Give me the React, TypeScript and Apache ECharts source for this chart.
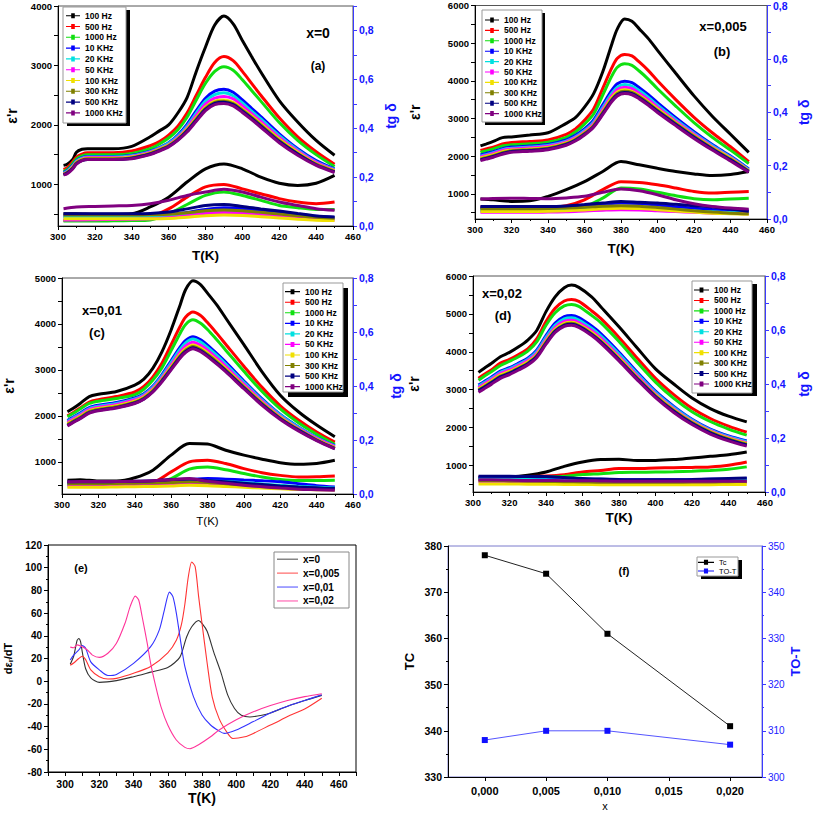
import React, { useEffect, useRef } from "react";
import * as echarts from "echarts";

const FONT = "'Liberation Sans', Arial, Helvetica, sans-serif";

const FREQS = ["100 Hz", "500 Hz", "1000 Hz", "10 KHz", "20 KHz", "50 KHz", "100 KHz", "300 KHz", "500 KHz", "1000 KHz"];
const FREQ_COLORS = ["#000000", "#ff0000", "#10e010", "#0000ff", "#00e0e0", "#ff00ff", "#f0e000", "#808000", "#000080", "#800080"];

// ---------- (a) x = 0 ----------
const T_EPS_A = [303, 305, 308, 310, 313, 316, 320, 330, 340, 350, 355, 360, 365, 370, 375, 380, 385, 390, 395, 400, 405, 410, 420, 430, 440, 450];
const EPS_A = [
  [1320, 1340, 1420, 1540, 1590, 1600, 1600, 1600, 1640, 1800, 1900, 2000, 2200, 2460, 2900, 3310, 3680, 3830, 3700, 3420, 3150, 2890, 2410, 2050, 1740, 1490],
  [1250, 1280, 1380, 1460, 1510, 1530, 1530, 1530, 1560, 1650, 1720, 1830, 1980, 2200, 2500, 2800, 3050, 3150, 3080, 2900, 2700, 2500, 2120, 1800, 1550, 1340],
  [1220, 1250, 1350, 1430, 1480, 1500, 1500, 1500, 1520, 1600, 1680, 1780, 1920, 2130, 2420, 2700, 2900, 2980, 2920, 2760, 2580, 2400, 2040, 1740, 1500, 1300],
  [1200, 1230, 1320, 1400, 1450, 1470, 1470, 1470, 1490, 1560, 1620, 1700, 1830, 2010, 2240, 2450, 2570, 2600, 2550, 2420, 2280, 2140, 1850, 1600, 1400, 1260],
  [1190, 1220, 1310, 1390, 1440, 1460, 1460, 1460, 1480, 1550, 1610, 1690, 1810, 1980, 2200, 2400, 2510, 2540, 2490, 2370, 2230, 2100, 1820, 1580, 1380, 1250],
  [1180, 1210, 1300, 1380, 1430, 1450, 1450, 1450, 1470, 1540, 1600, 1670, 1790, 1950, 2160, 2350, 2450, 2480, 2440, 2320, 2190, 2060, 1790, 1560, 1370, 1240],
  [1170, 1200, 1290, 1370, 1420, 1440, 1440, 1440, 1460, 1530, 1590, 1660, 1770, 1930, 2120, 2300, 2400, 2420, 2380, 2270, 2150, 2020, 1760, 1540, 1350, 1230],
  [1170, 1200, 1280, 1360, 1410, 1430, 1430, 1430, 1450, 1520, 1580, 1650, 1760, 1910, 2100, 2280, 2380, 2400, 2360, 2250, 2130, 2000, 1740, 1520, 1340, 1220],
  [1160, 1190, 1270, 1350, 1400, 1420, 1420, 1420, 1440, 1510, 1570, 1640, 1750, 1900, 2080, 2260, 2360, 2380, 2340, 2230, 2110, 1980, 1720, 1510, 1330, 1210],
  [1160, 1180, 1260, 1340, 1400, 1420, 1420, 1420, 1430, 1500, 1560, 1630, 1740, 1880, 2060, 2240, 2340, 2360, 2320, 2210, 2090, 1960, 1700, 1490, 1320, 1200],
];

// tg delta temperature grid (all panels)
const T_TG = [303, 310, 320, 330, 340, 350, 360, 370, 380, 390, 400, 410, 420, 430, 440, 450];
const TG_A = [
  [0.050, 0.050, 0.048, 0.048, 0.050, 0.078, 0.118, 0.180, 0.234, 0.254, 0.234, 0.200, 0.175, 0.166, 0.175, 0.207],
  [0.023, 0.023, 0.023, 0.024, 0.025, 0.037, 0.070, 0.118, 0.160, 0.170, 0.152, 0.132, 0.112, 0.098, 0.091, 0.098],
  [0.020, 0.020, 0.020, 0.021, 0.022, 0.025, 0.050, 0.088, 0.125, 0.139, 0.125, 0.105, 0.084, 0.075, 0.068, 0.067],
  [0.040, 0.040, 0.040, 0.040, 0.041, 0.043, 0.046, 0.055, 0.068, 0.075, 0.072, 0.064, 0.055, 0.047, 0.040, 0.035],
  [0.035, 0.035, 0.035, 0.035, 0.036, 0.038, 0.041, 0.048, 0.056, 0.060, 0.058, 0.052, 0.045, 0.038, 0.033, 0.030],
  [0.025, 0.025, 0.026, 0.027, 0.028, 0.030, 0.034, 0.042, 0.051, 0.055, 0.052, 0.046, 0.040, 0.033, 0.028, 0.025],
  [0.030, 0.030, 0.030, 0.030, 0.030, 0.030, 0.031, 0.036, 0.042, 0.045, 0.043, 0.038, 0.033, 0.028, 0.024, 0.022],
  [0.045, 0.045, 0.045, 0.045, 0.045, 0.046, 0.048, 0.054, 0.062, 0.065, 0.062, 0.056, 0.049, 0.042, 0.036, 0.032],
  [0.050, 0.050, 0.050, 0.050, 0.050, 0.051, 0.057, 0.070, 0.084, 0.088, 0.080, 0.070, 0.061, 0.051, 0.041, 0.037],
  [0.071, 0.078, 0.080, 0.082, 0.084, 0.091, 0.105, 0.125, 0.139, 0.150, 0.139, 0.118, 0.098, 0.084, 0.071, 0.064],
];

// ---------- (b) x = 0,005 ----------
const T_EPS_B = [303, 306, 310, 315, 320, 330, 340, 350, 355, 360, 365, 370, 375, 378, 382, 386, 390, 395, 400, 410, 420, 430, 440, 450];
const EPS_B = [
  [2270, 2320, 2390, 2490, 2510, 2560, 2620, 2870, 3020, 3300, 3660, 4240, 4980, 5380, 5640, 5580, 5380, 5120, 4810, 4200, 3600, 3060, 2580, 2100],
  [2150, 2190, 2240, 2320, 2360, 2390, 2430, 2580, 2720, 2950, 3250, 3800, 4350, 4600, 4700, 4660, 4500, 4270, 4000, 3500, 3030, 2620, 2250, 1850],
  [2100, 2140, 2190, 2270, 2300, 2330, 2370, 2500, 2640, 2850, 3120, 3620, 4130, 4360, 4450, 4410, 4260, 4040, 3790, 3330, 2890, 2500, 2160, 1800],
  [2030, 2070, 2120, 2200, 2240, 2270, 2310, 2430, 2550, 2720, 2960, 3360, 3750, 3920, 3990, 3950, 3820, 3630, 3420, 3020, 2650, 2310, 2000, 1660],
  [2000, 2040, 2090, 2170, 2210, 2240, 2280, 2400, 2510, 2680, 2910, 3290, 3670, 3830, 3900, 3860, 3740, 3560, 3350, 2970, 2610, 2280, 1980, 1640],
  [1980, 2020, 2070, 2150, 2190, 2220, 2260, 2380, 2490, 2650, 2870, 3240, 3610, 3770, 3830, 3790, 3670, 3500, 3300, 2930, 2580, 2250, 1960, 1620],
  [1950, 1990, 2040, 2120, 2160, 2190, 2230, 2350, 2460, 2620, 2830, 3190, 3550, 3700, 3760, 3720, 3610, 3440, 3250, 2890, 2550, 2230, 1940, 1610],
  [1920, 1960, 2010, 2090, 2140, 2170, 2210, 2330, 2440, 2600, 2810, 3160, 3510, 3660, 3720, 3690, 3580, 3410, 3220, 2870, 2530, 2210, 1920, 1600],
  [1900, 1940, 1990, 2070, 2120, 2150, 2190, 2310, 2420, 2580, 2790, 3130, 3480, 3630, 3690, 3660, 3550, 3380, 3190, 2840, 2500, 2190, 1900, 1590],
  [1880, 1920, 1970, 2050, 2100, 2130, 2170, 2290, 2400, 2560, 2770, 3100, 3450, 3600, 3660, 3630, 3520, 3350, 3160, 2810, 2470, 2160, 1870, 1570],
];
const TG_B = [
  [0.075, 0.072, 0.066, 0.068, 0.085, 0.110, 0.140, 0.178, 0.215, 0.203, 0.190, 0.178, 0.169, 0.163, 0.167, 0.178],
  [0.045, 0.043, 0.041, 0.042, 0.043, 0.050, 0.072, 0.110, 0.140, 0.137, 0.128, 0.116, 0.103, 0.097, 0.100, 0.103],
  [0.035, 0.035, 0.035, 0.035, 0.035, 0.038, 0.047, 0.078, 0.116, 0.112, 0.100, 0.087, 0.076, 0.072, 0.075, 0.078],
  [0.042, 0.042, 0.042, 0.042, 0.043, 0.045, 0.048, 0.055, 0.060, 0.058, 0.052, 0.046, 0.040, 0.036, 0.033, 0.030],
  [0.030, 0.030, 0.030, 0.030, 0.031, 0.033, 0.036, 0.041, 0.045, 0.044, 0.040, 0.035, 0.030, 0.027, 0.024, 0.022],
  [0.025, 0.025, 0.025, 0.025, 0.026, 0.027, 0.030, 0.033, 0.035, 0.034, 0.031, 0.028, 0.025, 0.022, 0.021, 0.020],
  [0.028, 0.028, 0.028, 0.028, 0.029, 0.031, 0.034, 0.038, 0.040, 0.039, 0.035, 0.030, 0.026, 0.022, 0.020, 0.018],
  [0.038, 0.038, 0.038, 0.038, 0.039, 0.041, 0.044, 0.048, 0.050, 0.048, 0.043, 0.037, 0.031, 0.026, 0.022, 0.020],
  [0.047, 0.047, 0.047, 0.047, 0.047, 0.049, 0.054, 0.060, 0.066, 0.063, 0.060, 0.055, 0.050, 0.045, 0.037, 0.029],
  [0.075, 0.077, 0.078, 0.077, 0.076, 0.079, 0.085, 0.100, 0.112, 0.106, 0.091, 0.072, 0.057, 0.047, 0.041, 0.037],
];

// ---------- (c) x = 0,01 ----------
const T_EPS_C = [303, 306, 310, 315, 320, 330, 340, 345, 350, 355, 360, 365, 368, 372, 376, 380, 385, 390, 400, 410, 420, 430, 440, 450];
const EPS_C = [
  [2090, 2160, 2270, 2420, 2470, 2530, 2670, 2800, 3040, 3400, 3870, 4420, 4750, 4940, 4860, 4670, 4420, 4130, 3550, 2960, 2450, 2090, 1800, 1545],
  [2000, 2070, 2170, 2300, 2350, 2420, 2520, 2640, 2850, 3150, 3550, 3950, 4150, 4260, 4190, 4030, 3800, 3560, 3080, 2620, 2220, 1910, 1650, 1430],
  [1980, 2050, 2150, 2270, 2320, 2380, 2460, 2580, 2780, 3050, 3420, 3800, 3990, 4090, 4020, 3880, 3660, 3430, 2970, 2530, 2150, 1850, 1600, 1380],
  [1900, 1970, 2060, 2180, 2230, 2290, 2390, 2480, 2650, 2900, 3200, 3500, 3640, 3720, 3660, 3540, 3360, 3170, 2760, 2370, 2030, 1760, 1530, 1350],
  [1880, 1950, 2040, 2160, 2210, 2270, 2370, 2460, 2630, 2870, 3160, 3450, 3590, 3670, 3610, 3490, 3320, 3130, 2730, 2350, 2020, 1750, 1520, 1340],
  [1860, 1930, 2020, 2140, 2190, 2250, 2350, 2440, 2600, 2830, 3110, 3390, 3520, 3600, 3540, 3430, 3260, 3080, 2690, 2320, 1990, 1730, 1510, 1330],
  [1830, 1900, 1990, 2110, 2160, 2220, 2320, 2410, 2570, 2800, 3070, 3340, 3460, 3540, 3480, 3370, 3210, 3030, 2650, 2290, 1970, 1710, 1490, 1310],
  [1810, 1880, 1970, 2090, 2140, 2200, 2300, 2390, 2550, 2780, 3040, 3310, 3430, 3510, 3450, 3340, 3180, 3000, 2630, 2270, 1950, 1700, 1480, 1300],
  [1790, 1860, 1950, 2070, 2120, 2180, 2280, 2370, 2530, 2760, 3020, 3280, 3400, 3480, 3420, 3310, 3150, 2980, 2610, 2250, 1940, 1690, 1470, 1290],
  [1780, 1850, 1940, 2060, 2110, 2170, 2270, 2360, 2520, 2740, 3000, 3260, 3380, 3460, 3400, 3290, 3130, 2960, 2590, 2230, 1920, 1670, 1460, 1280],
];
const TG_C = [
  [0.051, 0.053, 0.048, 0.048, 0.060, 0.088, 0.144, 0.187, 0.185, 0.162, 0.144, 0.129, 0.116, 0.110, 0.113, 0.125],
  [0.040, 0.040, 0.040, 0.041, 0.043, 0.045, 0.082, 0.119, 0.125, 0.113, 0.094, 0.079, 0.069, 0.063, 0.064, 0.067],
  [0.035, 0.035, 0.035, 0.036, 0.038, 0.040, 0.057, 0.092, 0.100, 0.090, 0.076, 0.063, 0.054, 0.050, 0.050, 0.051],
  [0.040, 0.040, 0.040, 0.041, 0.042, 0.043, 0.045, 0.052, 0.057, 0.055, 0.052, 0.049, 0.045, 0.038, 0.031, 0.026],
  [0.033, 0.033, 0.033, 0.034, 0.035, 0.037, 0.040, 0.045, 0.048, 0.046, 0.042, 0.037, 0.032, 0.028, 0.025, 0.022],
  [0.030, 0.030, 0.030, 0.031, 0.032, 0.034, 0.036, 0.039, 0.040, 0.038, 0.034, 0.030, 0.026, 0.023, 0.021, 0.020],
  [0.025, 0.025, 0.025, 0.026, 0.027, 0.028, 0.030, 0.032, 0.031, 0.028, 0.025, 0.022, 0.019, 0.017, 0.016, 0.015],
  [0.038, 0.038, 0.038, 0.039, 0.040, 0.041, 0.043, 0.045, 0.043, 0.038, 0.033, 0.028, 0.024, 0.021, 0.019, 0.018],
  [0.045, 0.045, 0.045, 0.046, 0.047, 0.049, 0.054, 0.056, 0.050, 0.045, 0.040, 0.035, 0.030, 0.026, 0.023, 0.020],
  [0.045, 0.046, 0.046, 0.046, 0.047, 0.049, 0.053, 0.057, 0.047, 0.040, 0.032, 0.027, 0.022, 0.018, 0.016, 0.014],
];

// ---------- (d) x = 0,02 ----------
const T_EPS_D = [303, 306, 310, 315, 320, 325, 330, 335, 340, 345, 350, 354, 358, 365, 370, 380, 390, 400, 410, 420, 430, 440, 450];
const EPS_D = [
  [3456, 3560, 3690, 3870, 3984, 4130, 4310, 4570, 5060, 5450, 5690, 5760, 5700, 5450, 5190, 4660, 4100, 3550, 3150, 2780, 2500, 2300, 2150],
  [3300, 3400, 3520, 3700, 3800, 3930, 4080, 4350, 4800, 5150, 5340, 5380, 5330, 5080, 4880, 4380, 3830, 3300, 2870, 2510, 2240, 2040, 1880],
  [3250, 3350, 3470, 3640, 3750, 3870, 4020, 4270, 4700, 5030, 5210, 5250, 5200, 4960, 4770, 4270, 3720, 3200, 2770, 2420, 2160, 1960, 1800],
  [3120, 3210, 3330, 3490, 3580, 3700, 3830, 4050, 4430, 4760, 4930, 4960, 4900, 4680, 4480, 3990, 3460, 2960, 2560, 2220, 1960, 1780, 1650],
  [3090, 3180, 3300, 3460, 3550, 3670, 3800, 4010, 4380, 4700, 4870, 4900, 4840, 4620, 4420, 3940, 3420, 2930, 2530, 2200, 1940, 1760, 1630],
  [3060, 3150, 3270, 3430, 3520, 3640, 3770, 3970, 4320, 4640, 4800, 4830, 4770, 4560, 4360, 3880, 3370, 2890, 2500, 2170, 1920, 1740, 1600],
  [3020, 3110, 3230, 3390, 3480, 3600, 3730, 3930, 4280, 4590, 4750, 4780, 4720, 4510, 4310, 3840, 3330, 2860, 2470, 2150, 1900, 1720, 1580],
  [2990, 3080, 3200, 3360, 3450, 3570, 3700, 3900, 4250, 4560, 4720, 4750, 4690, 4480, 4280, 3810, 3310, 2840, 2450, 2130, 1880, 1700, 1560],
  [2970, 3060, 3180, 3340, 3430, 3550, 3680, 3880, 4230, 4540, 4700, 4730, 4670, 4460, 4260, 3790, 3290, 2820, 2430, 2110, 1860, 1680, 1540],
  [2930, 3020, 3140, 3300, 3400, 3520, 3650, 3850, 4200, 4510, 4670, 4700, 4640, 4430, 4230, 3760, 3260, 2790, 2400, 2080, 1830, 1650, 1510],
];
const TG_D = [
  [0.053, 0.055, 0.056, 0.062, 0.074, 0.095, 0.111, 0.120, 0.121, 0.117, 0.117, 0.120, 0.126, 0.132, 0.138, 0.148],
  [0.055, 0.055, 0.056, 0.057, 0.059, 0.064, 0.074, 0.080, 0.087, 0.087, 0.089, 0.090, 0.091, 0.093, 0.099, 0.111],
  [0.050, 0.050, 0.051, 0.053, 0.055, 0.058, 0.065, 0.068, 0.072, 0.073, 0.074, 0.075, 0.077, 0.080, 0.084, 0.093],
  [0.052, 0.052, 0.051, 0.050, 0.050, 0.049, 0.048, 0.047, 0.046, 0.045, 0.045, 0.045, 0.046, 0.047, 0.048, 0.050],
  [0.048, 0.048, 0.047, 0.046, 0.045, 0.044, 0.043, 0.042, 0.041, 0.040, 0.040, 0.040, 0.041, 0.042, 0.043, 0.045],
  [0.040, 0.040, 0.039, 0.038, 0.037, 0.036, 0.035, 0.034, 0.033, 0.033, 0.033, 0.033, 0.034, 0.034, 0.035, 0.036],
  [0.030, 0.030, 0.030, 0.029, 0.029, 0.028, 0.028, 0.027, 0.027, 0.027, 0.027, 0.027, 0.027, 0.027, 0.028, 0.028],
  [0.042, 0.042, 0.041, 0.040, 0.039, 0.038, 0.037, 0.036, 0.036, 0.036, 0.036, 0.036, 0.037, 0.037, 0.038, 0.039],
  [0.058, 0.058, 0.058, 0.057, 0.057, 0.054, 0.050, 0.048, 0.046, 0.045, 0.045, 0.045, 0.046, 0.048, 0.050, 0.052],
  [0.045, 0.045, 0.044, 0.043, 0.043, 0.042, 0.042, 0.041, 0.040, 0.040, 0.040, 0.040, 0.040, 0.040, 0.040, 0.040],
];

// ---------- (e) derivative d eps / dT ----------
const E_NAMES = ["x=0", "x=0,005", "x=0,01", "x=0,02"];
const E_COLORS = ["#333333", "#ff3333", "#3333ff", "#ff3399"];
const E_T0 = [303, 305, 307, 308, 309, 310, 312, 315, 320, 330, 340, 350, 360, 367, 371, 374, 378, 380, 383, 387, 391, 395, 399, 403, 408, 415, 420, 430, 440, 450];
const E_V0 = [15, 22, 36, 37.5, 35, 26, 11, 3, -1, 0.5, 4, 8, 12, 21, 39, 48, 53.5, 51, 44, 25, 8, -12, -24, -30, -31.5, -30, -28, -22, -17, -12.5];
const E_T1 = [303, 305, 308, 310, 312, 315, 320, 325, 330, 340, 350, 360, 365, 368, 370, 372, 374, 376, 378, 380, 383, 386, 390, 395, 398, 405, 410, 420, 425, 430, 440, 450];
const E_V1 = [14, 16, 20, 22, 19, 10, 4, 2, 2.5, 7, 13, 25, 36, 50, 68, 92, 105, 101, 75, 51, 16, -14, -33, -46, -50.5, -49, -46, -38.6, -35, -31, -24.5, -15];
const E_T2 = [303, 305, 308, 310, 312, 315, 320, 325, 330, 340, 350, 355, 358, 361, 363, 365, 368, 370, 375, 380, 385, 390, 393, 400, 410, 420, 430, 440, 450];
const E_V2 = [18.7, 23, 27.5, 31.5, 29, 17, 10, 5, 6, 15.7, 30.4, 45, 62.7, 78.5, 74.5, 60, 30.4, 12.8, -13.6, -29.8, -38.6, -43.9, -46, -43, -35.6, -28, -22, -17, -12];
const E_T3 = [303, 305, 307, 310, 313, 316, 320, 325, 330, 335, 338, 341, 343, 345, 348, 350, 353, 356, 360, 365, 370, 373, 378, 385, 390, 400, 410, 420, 430, 440, 450];
const E_V3 = [30, 29.5, 32, 30.4, 27.5, 23, 21, 24.6, 33.4, 51, 65.7, 75, 71.5, 57, 33.4, 15.7, -4.8, -22.4, -38.6, -51.8, -58.3, -59.5, -56, -49, -43, -34, -27, -21.5, -17, -13.6, -11];

// ---------- (f) Tc and TO-T vs x ----------
const F_X = [0, 0.005, 0.01, 0.02];
const F_TC = [378, 374, 361, 341];
const F_TOT = [308, 310, 310, 307];

const comma = (v: number, d: number) => v.toFixed(d).replace(".", ",");
// legend icon: thin line with a small square in the middle
const LINE_SQUARE_ICON = "path://M0,2H14V3H0Z M5.2,0.3H8.8V4.7H5.2Z";

function buildOption() {
  const grid: any[] = [];
  const xAxis: any[] = [];
  const yAxis: any[] = [];
  const series: any[] = [];
  const legend: any[] = [];
  const graphic: any[] = [];

  const tickLabel = { color: "#000", fontWeight: "bold", fontSize: 9.5, fontFamily: FONT };

  const panels = [
    {
      g: { left: 58, top: 6, width: 295, height: 220 }, T: T_EPS_A, eps: EPS_A, tg: TG_A,
      yMin: 300, yMax: 4000, yLabels: [1000, 2000, 3000, 4000], yTicks: [500, 1000, 1500, 2000, 2500, 3000, 3500, 4000],
      tgMax: 0.9, xGap: 22, xBold: true, xSize: 13.5, yGap: 39, tgGap: 31,
      lg: { left: 66, top: 10.3, row: 10.8, iw: 14 }, box: { x: 63, y: 7, w: 63, h: 116, sx: 4, sy: 3 },
      t1: { t: "x=0", x: 318, y: 33, s: 14 }, t2: { t: "(a)", x: 318, y: 66, s: 12 },
    },
    {
      g: { left: 475, top: 5, width: 292, height: 214 }, T: T_EPS_B, eps: EPS_B, tg: TG_B,
      yMin: 330, yMax: 6000, yLabels: [1000, 2000, 3000, 4000, 5000, 6000], yTicks: [500, 1000, 1500, 2000, 2500, 3000, 3500, 4000, 4500, 5000, 5500, 6000],
      tgMax: 0.8, xGap: 22, xBold: true, xSize: 13.5, yGap: 53, tgGap: 30,
      lg: { left: 485, top: 14.8, row: 10.4, iw: 14 }, box: { x: 482, y: 10, w: 60, h: 112, sx: 3, sy: 3 },
      t1: { t: "x=0,005", x: 723, y: 26, s: 13 }, t2: { t: "(b)", x: 722, y: 51, s: 13 },
    },
    {
      g: { left: 62, top: 278, width: 291, height: 216 }, T: T_EPS_C, eps: EPS_C, tg: TG_C,
      yMin: 300, yMax: 5000, yLabels: [1000, 2000, 3000, 4000, 5000], yTicks: [500, 1000, 1500, 2000, 2500, 3000, 3500, 4000, 4500, 5000],
      tgMax: 0.8, xGap: 21, xBold: false, xSize: 11.5, yGap: 46, tgGap: 36,
      lg: { left: 285, top: 286.4, row: 10.55, iw: 15 }, box: { x: 283, y: 283, w: 60, h: 109, sx: 5, sy: 5 },
      t1: { t: "x=0,01", x: 102, y: 310, s: 13 }, t2: { t: "(c)", x: 97, y: 332, s: 13 },
    },
    {
      g: { left: 473, top: 276, width: 292, height: 216 }, T: T_EPS_D, eps: EPS_D, tg: TG_D,
      yMin: 300, yMax: 6000, yLabels: [1000, 2000, 3000, 4000, 5000, 6000], yTicks: [500, 1000, 1500, 2000, 2500, 3000, 3500, 4000, 4500, 5000, 5500, 6000],
      tgMax: 0.8, xGap: 18, xBold: true, xSize: 13.5, yGap: 52, tgGap: 32,
      lg: { left: 694, top: 284.8, row: 10.44, iw: 15 }, box: { x: 692, y: 281, w: 60, h: 112, sx: 5, sy: 3 },
      t1: { t: "x=0,02", x: 502, y: 293, s: 13 }, t2: { t: "(d)", x: 503, y: 315, s: 13 },
    },
  ];

  panels.forEach((p, i) => {
    grid.push({ ...p.g, show: true, borderColor: "#555", borderWidth: 1, backgroundColor: "transparent" });
    xAxis.push({
      gridIndex: i, type: "value", min: 300, max: 460, interval: 20,
      axisLine: { onZero: false, lineStyle: { color: "#000", width: 1 } },
      axisTick: { length: 4, lineStyle: { color: "#000" } },
      minorTick: { show: true, splitNumber: 2, length: 2, lineStyle: { color: "#000" } },
      axisLabel: { ...tickLabel, margin: 5, formatter: (v: number) => String(v) },
      splitLine: { show: false },
      name: "T(K)", nameLocation: "middle", nameGap: p.xGap,
      nameTextStyle: { color: "#000", fontWeight: p.xBold ? "bold" : "normal", fontSize: p.xSize, fontFamily: FONT },
    });
    yAxis.push({
      gridIndex: i, type: "value", min: p.yMin, max: p.yMax,
      axisLine: { show: true, onZero: false, lineStyle: { color: "#000", width: 1 } },
      axisTick: { show: true, length: 4, customValues: p.yTicks, lineStyle: { color: "#000" } },
      axisLabel: { ...tickLabel, customValues: p.yLabels, margin: 6, formatter: (v: number) => String(Math.round(v)) },
      splitLine: { show: false },
      name: "ε'r", nameLocation: "middle", nameGap: p.yGap,
      nameTextStyle: { color: "#000", fontWeight: "bold", fontSize: 14, fontFamily: FONT },
    });
    yAxis.push({
      gridIndex: i, type: "value", position: "right", min: 0, max: p.tgMax, interval: 0.1,
      axisLine: { show: true, onZero: false, lineStyle: { color: "#3b3bff", width: 1 } },
      axisTick: { show: true, length: 4, lineStyle: { color: "#3b3bff" } },
      axisLabel: {
        color: "#1414ff", fontWeight: "bold", fontSize: 10.5, fontFamily: FONT, interval: 0, margin: 6,
        formatter: (v: number) => (Math.round(v * 10) % 2 === 0 ? comma(v, 1) : ""),
      },
      splitLine: { show: false },
      name: "tg δ", nameLocation: "middle", nameGap: p.tgGap,
      nameTextStyle: { color: "#1414ff", fontWeight: "bold", fontSize: 14, fontFamily: FONT },
    });
    FREQS.forEach((f, k) => {
      series.push({
        type: "line", name: f, xAxisIndex: i, yAxisIndex: 2 * i,
        data: p.T.map((t, j) => [t, p.eps[k][j]]),
        smooth: 0.3, symbol: "rect", symbolSize: 4, showSymbol: false, silent: true,
        lineStyle: { width: 3, color: FREQ_COLORS[k] }, itemStyle: { color: FREQ_COLORS[k] },
      });
      series.push({
        type: "line", name: "tg δ " + f, xAxisIndex: i, yAxisIndex: 2 * i + 1,
        data: T_TG.map((t, j) => [t, p.tg[k][j]]),
        smooth: 0.3, symbol: "none", silent: true,
        lineStyle: { width: 3, color: FREQ_COLORS[k] }, itemStyle: { color: FREQ_COLORS[k] },
      });
    });
    legend.push({
      data: FREQS, icon: LINE_SQUARE_ICON, orient: "vertical", left: p.lg.left, top: p.lg.top, padding: 0, itemGap: 0,
      itemWidth: p.lg.iw, itemHeight: 5, selectedMode: false, z: 6, symbolKeepAspect: false,
      textStyle: { fontSize: 8.5, fontWeight: "bold", color: "#000", fontFamily: FONT, lineHeight: p.lg.row },
    });
    const b = p.box;
    graphic.push({ type: "rect", z: 3, shape: { x: b.x + b.sx, y: b.y + b.sy, width: b.w, height: b.h }, style: { fill: "#000" } });
    graphic.push({ type: "rect", z: 3, shape: { x: b.x, y: b.y, width: b.w, height: b.h }, style: { fill: "#fff", stroke: "#999", lineWidth: 1 } });
    [p.t1, p.t2].forEach((t) => {
      graphic.push({
        type: "text", z: 10, x: t.x, y: t.y,
        style: { text: t.t, fill: "#000", fontSize: t.s, fontWeight: "bold", fontFamily: FONT, align: "center", verticalAlign: "middle" },
      });
    });
  });

  // ---------- (e) ----------
  grid.push({ left: 48, top: 545, width: 308, height: 227, show: true, borderColor: "#000", borderWidth: 1, backgroundColor: "transparent" });
  xAxis.push({
    gridIndex: 4, type: "value", min: 290, max: 470, interval: 10,
    axisLine: { onZero: false, lineStyle: { color: "#000" } },
    axisTick: { length: 4, lineStyle: { color: "#000" } },
    axisLabel: {
      ...tickLabel, fontSize: 10.5, interval: 0, margin: 6,
      formatter: (v: number) => (v % 20 === 0 ? String(v) : ""),
    },
    splitLine: { show: false },
    name: "T(K)", nameLocation: "middle", nameGap: 19,
    nameTextStyle: { color: "#000", fontWeight: "bold", fontSize: 14, fontFamily: FONT },
  });
  yAxis.push({
    gridIndex: 4, type: "value", min: -80, max: 120, interval: 20,
    axisLine: { show: true, onZero: false, lineStyle: { color: "#000" } },
    axisTick: { show: true, length: 4, lineStyle: { color: "#000" } },
    minorTick: { show: true, splitNumber: 2, length: 2, lineStyle: { color: "#000" } },
    axisLabel: { ...tickLabel, fontSize: 10, margin: 6 },
    splitLine: { show: false },
    name: "{a|dε}{b|r}{a|/dT}", nameLocation: "middle", nameGap: 34,
    nameTextStyle: {
      color: "#000", fontFamily: FONT,
      rich: { a: { fontSize: 11, fontWeight: "bold", fontFamily: FONT }, b: { fontSize: 8, fontWeight: "bold", fontFamily: FONT, padding: [5, 0, 0, 0] } },
    },
  });
  const eT = [E_T0, E_T1, E_T2, E_T3];
  const eV = [E_V0, E_V1, E_V2, E_V3];
  E_NAMES.forEach((n, k) => {
    series.push({
      type: "line", name: n, xAxisIndex: 4, yAxisIndex: 8,
      data: eT[k].map((t, j) => [t, eV[k][j]]),
      smooth: 0.25, symbol: "none", silent: true,
      lineStyle: { width: 1.1, color: E_COLORS[k] }, itemStyle: { color: E_COLORS[k] },
    });
  });
  legend.push({
    data: E_NAMES, orient: "vertical", left: 277, top: 552.3, padding: 0, itemGap: 0,
    itemWidth: 21, itemHeight: 1.5, icon: "rect", selectedMode: false, z: 6,
    itemStyle: { opacity: 0.6 },
    textStyle: { fontSize: 10, fontWeight: "bold", color: "#000", fontFamily: FONT, lineHeight: 13.9 },
  });
  graphic.push({ type: "rect", z: 3, shape: { x: 274, y: 552, width: 75, height: 56 }, style: { fill: "#fff", stroke: "#888", lineWidth: 1 } });
  graphic.push({
    type: "text", z: 10, x: 81, y: 568,
    style: { text: "(e)", fill: "#000", fontSize: 11, fontWeight: "bold", fontFamily: FONT, align: "center", verticalAlign: "middle" },
  });

  // ---------- (f) ----------
  grid.push({ left: 448, top: 546, width: 314, height: 231, show: true, borderColor: "#7a7acc", borderWidth: 1, backgroundColor: "transparent" });
  xAxis.push({
    gridIndex: 5, type: "value", min: -0.003, max: 0.0226,
    axisLine: { onZero: false, lineStyle: { color: "#000" } },
    axisTick: { length: 4, customValues: [0, 0.005, 0.01, 0.015, 0.02], lineStyle: { color: "#000" } },
    axisLabel: { ...tickLabel, fontSize: 11, margin: 8, customValues: [0, 0.005, 0.01, 0.015, 0.02], formatter: (v: number) => comma(v, 3) },
    splitLine: { show: false },
    name: "x", nameLocation: "middle", nameGap: 23,
    nameTextStyle: { color: "#000", fontSize: 11, fontFamily: FONT },
  });
  yAxis.push({
    gridIndex: 5, type: "value", min: 330, max: 380, interval: 10,
    axisLine: { show: true, onZero: false, lineStyle: { color: "#000" } },
    axisTick: { show: true, length: 4, lineStyle: { color: "#000" } },
    minorTick: { show: true, splitNumber: 2, length: 2, lineStyle: { color: "#000" } },
    axisLabel: { ...tickLabel, fontSize: 10.5, margin: 6 },
    splitLine: { show: false },
    name: "TC", nameLocation: "middle", nameGap: 32,
    nameTextStyle: { color: "#000", fontWeight: "bold", fontSize: 13, fontFamily: FONT },
  });
  yAxis.push({
    gridIndex: 5, type: "value", position: "right", min: 300, max: 350, interval: 10,
    axisLine: { show: true, onZero: false, lineStyle: { color: "#3b3bff" } },
    axisTick: { show: true, length: 4, lineStyle: { color: "#3b3bff" } },
    minorTick: { show: true, splitNumber: 2, length: 2, lineStyle: { color: "#3b3bff" } },
    axisLabel: { color: "#2020ff", fontSize: 10, fontFamily: FONT, margin: 6 },
    splitLine: { show: false },
    name: "TO-T", nameLocation: "middle", nameGap: 26,
    nameTextStyle: { color: "#1414ff", fontWeight: "bold", fontSize: 13, fontFamily: FONT },
  });
  series.push({
    type: "line", name: "Tc", xAxisIndex: 5, yAxisIndex: 9,
    data: F_X.map((x, j) => [x, F_TC[j]]),
    symbol: "rect", symbolSize: 6, silent: true,
    lineStyle: { width: 1, color: "#222" }, itemStyle: { color: "#000" },
  });
  series.push({
    type: "line", name: "TO-T", xAxisIndex: 5, yAxisIndex: 10,
    data: F_X.map((x, j) => [x, F_TOT[j]]),
    symbol: "rect", symbolSize: 6, silent: true,
    lineStyle: { width: 1, color: "#5555ff" }, itemStyle: { color: "#1010ff" },
  });
  legend.push({
    data: ["Tc", "TO-T"], icon: LINE_SQUARE_ICON,
    orient: "vertical", left: 698, top: 558, padding: 0, itemGap: 0,
    itemWidth: 16, itemHeight: 5, selectedMode: false, z: 6, symbolKeepAspect: false,
    textStyle: { fontSize: 7.5, color: "#000", fontFamily: FONT, lineHeight: 8.7 },
  });
  graphic.push({ type: "rect", z: 3, shape: { x: 701, y: 560, width: 41, height: 19 }, style: { fill: "#000" } });
  graphic.push({ type: "rect", z: 3, shape: { x: 697, y: 557, width: 41, height: 19 }, style: { fill: "#fff", stroke: "#999", lineWidth: 1 } });
  graphic.push({
    type: "text", z: 10, x: 624, y: 571,
    style: { text: "(f)", fill: "#000", fontSize: 11, fontWeight: "bold", fontFamily: FONT, align: "center", verticalAlign: "middle" },
  });

  return {
    animation: false,
    backgroundColor: "#ffffff",
    textStyle: { fontFamily: FONT },
    grid, xAxis, yAxis, series, legend, graphic,
  };
}

export default function App() {
  const ref = useRef<HTMLDivElement>(null);
  useEffect(() => {
    document.body.style.margin = "0";
    const chart = echarts.init(ref.current as HTMLDivElement, null, { renderer: "svg", width: 813, height: 814 });
    chart.setOption(buildOption() as any);
    return () => chart.dispose();
  }, []);
  return <div ref={ref} style={{ width: 813, height: 814 }} />;
}
